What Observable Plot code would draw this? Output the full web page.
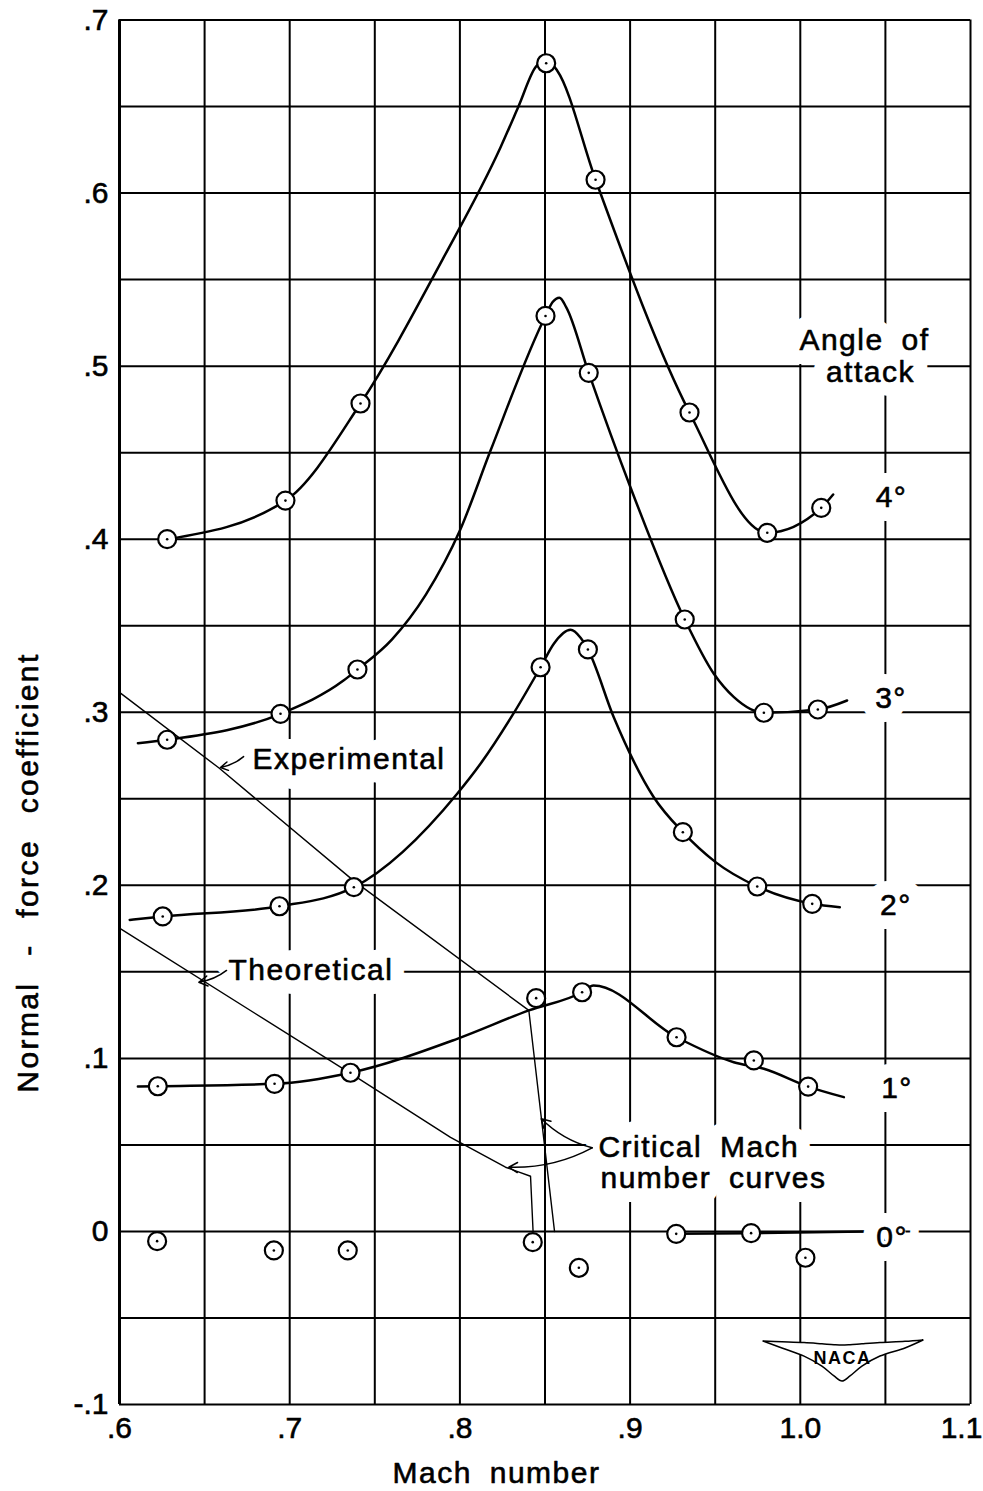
<!DOCTYPE html>
<html><head><meta charset="utf-8">
<script src="https://cdn.jsdelivr.net/npm/d3@7"></script>
<script src="https://cdn.jsdelivr.net/npm/@observablehq/plot@0.6"></script>
<style>
html,body{margin:0;padding:0;background:#fff;}
#chart svg{display:block;}
#chart g[aria-label="text"] text{letter-spacing:1.5px;word-spacing:8px;}
#chart g[aria-label="text"] text[transform*="rotate"]{letter-spacing:2.4px;word-spacing:15px;}
#chart g[aria-label="x-axis tick label"] text,
#chart g[aria-label="y-axis tick label"] text{stroke:black;stroke-width:0.6px;}
</style>
</head><body><div id="chart"></div>
<script>
// ---- axes ----
const xTicks = [0.6, 0.7, 0.8, 0.9, 1.0, 1.1];
const xTickLabels = [".6", ".7", ".8", ".9", "1.0", "1.1"];
const yTicks = [-0.1, 0, 0.1, 0.2, 0.3, 0.4, 0.5, 0.6, 0.7];
const yTickLabels = ["-.1", "0", ".1", ".2", ".3", ".4", ".5", ".6", ".7"];
const gridXs = [0.6, 0.65, 0.7, 0.75, 0.8, 0.85, 0.9, 0.95, 1.0, 1.05, 1.1];
const gridYs = [-0.1, -0.05, 0, 0.05, 0.1, 0.15, 0.2, 0.25, 0.3, 0.35, 0.4, 0.45, 0.5, 0.55, 0.6, 0.65, 0.7];
const xTitle = "Mach number";
const yTitle = "Normal - force coefficient";

// ---- measured points (Mach number, normal-force coefficient) ----
const mach4 = [0.628, 0.6975, 0.7416, 0.8507, 0.8797, 0.9349, 0.9806, 1.0123];
const cn4   = [0.400, 0.4223, 0.4784, 0.675, 0.6077, 0.4732, 0.4037, 0.4181];
const mach3 = [0.628, 0.6946, 0.7398, 0.8503, 0.8757, 0.9321, 0.9786, 1.0103];
const cn3   = [0.2841, 0.2991, 0.3247, 0.529, 0.4961, 0.3536, 0.2997, 0.3016];
const mach2 = [0.6254, 0.694, 0.7377, 0.8474, 0.8752, 0.931, 0.9747, 1.007];
const cn2   = [0.182, 0.1879, 0.1989, 0.326, 0.3363, 0.2307, 0.1993, 0.1893];
const mach1 = [0.6225, 0.6911, 0.7357, 0.8448, 0.8718, 0.9273, 0.9727, 1.0046];
const cn1   = [0.0839, 0.0853, 0.0917, 0.1348, 0.1382, 0.1122, 0.0988, 0.0837];
const mach0 = [0.6221, 0.6907, 0.7341, 0.8428, 0.8699, 0.9271, 0.9711, 1.003];
const cn0   = [-0.0056, -0.011, -0.011, -0.0062, -0.021, -0.0014, -0.001, -0.0152];

// ---- faired curves ----
const fair4M = [0.6282, 0.6975, 0.7416, 0.79, 0.8239, 0.8344, 0.8444, 0.8507, 0.8572, 0.8797, 0.9349, 0.9806, 1.0123, 1.0193];
const fair4C = [0.400, 0.4223, 0.4784, 0.562, 0.6265, 0.65, 0.6727, 0.677, 0.6707, 0.6077, 0.4732, 0.4037, 0.4181, 0.4258];
const fair3M = [0.6108, 0.628, 0.6946, 0.7316, 0.7398, 0.76, 0.78, 0.80, 0.818, 0.8503, 0.8545, 0.8585, 0.8625, 0.8757, 0.9002, 0.9321, 0.9492, 0.961, 0.9786, 1.0103, 1.0275];
const fair3C = [0.2821, 0.2841, 0.2991, 0.3183, 0.3247, 0.342, 0.368, 0.405, 0.4512, 0.529, 0.537, 0.5395, 0.534, 0.4961, 0.43, 0.3536, 0.3222, 0.3087, 0.2997, 0.3016, 0.3068];
const fair2M = [0.606, 0.6254, 0.694, 0.7377, 0.7984, 0.8121, 0.8307, 0.8474, 0.8552, 0.865, 0.8709, 0.8752, 0.8904, 0.9139, 0.931, 0.9502, 0.9747, 1.007, 1.0232];
const fair2C = [0.180, 0.182, 0.1879, 0.1989, 0.2529, 0.2702, 0.298, 0.326, 0.3396, 0.3476, 0.343, 0.3363, 0.2971, 0.2509, 0.2307, 0.2134, 0.1993, 0.1893, 0.1873];
const fair1M = [0.6108, 0.6225, 0.6911, 0.7357, 0.7984, 0.8405, 0.8718, 0.8785, 0.9273, 0.9609, 0.9786, 1.0046, 1.0256];
const fair1C = [0.0837, 0.0839, 0.0853, 0.0917, 0.1113, 0.1277, 0.1382, 0.1421, 0.1122, 0.0978, 0.094, 0.0837, 0.0776];
const fair0M = [0.9271, 0.9711, 1.038];
const fair0C = [-0.0014, -0.001, 0.0];

// ---- critical Mach number curves ----
const critExpM = [0.6, 0.6583, 0.7375, 0.8405, 0.8556];
const critExpC = [0.3115, 0.2679, 0.2027, 0.1277, 0.0];
const critTheoM = [0.6, 0.7357, 0.7945, 0.8268, 0.8415, 0.843];
const critTheoC = [0.1753, 0.0913, 0.0544, 0.0371, 0.0319, 0.0];

// ---- annotations ----
const angleLabels = ["4°", "3°", "2°", "1°", "0°"];
const angleLabelM = [1.0536, 1.0533, 1.0562, 1.0568, 1.0539];
const angleLabelC = [0.4241, 0.3078, 0.1883, 0.0826, -0.0035];
const legendTitle = ["Angle of", "attack"];
const legendTitleM = [1.0377, 1.0412];
const legendTitleC = [0.5148, 0.4963];
const notes = ["Experimental", "Theoretical", "Critical Mach", "number curves"];
const noteM = [0.6781, 0.664, 0.8814, 0.8826];
const noteC = [0.2727, 0.1508, 0.0487, 0.0304];
const leaderFromM = [0.6729, 0.6629, 0.8777, 0.8777];
const leaderFromC = [0.2744, 0.1508, 0.0483, 0.0483];
const leaderToM = [0.6593, 0.6466, 0.8478, 0.8287];
const leaderToC = [0.2681, 0.1440, 0.0651, 0.0371];
const xTitleM = 0.8215;
const yTitleC = 0.2074;

// ---- NACA wing logo ----
const logoM = [0.9784, 0.9895, 1.0025, 1.0130, 1.0201, 1.0248, 1.0295, 1.0365, 1.0471, 1.0618, 1.0724];
const logoTop = [-0.0636, -0.0640, -0.0645, -0.0652, -0.0657, -0.0659, -0.0657, -0.0652, -0.0645, -0.0638, -0.0630];
const logoBottom = [-0.0636, -0.0676, -0.0723, -0.0781, -0.0838, -0.0867, -0.0838, -0.0781, -0.0723, -0.0676, -0.0630];
const logoText = "NACA";
const logoTextM = 1.0248, logoTextC = -0.0734;

// ---- build rows ----
const rows = (ms, cs) => ms.map((m, i) => ({m, c: cs[i]}));
const points = [
  ...rows(mach4, cn4), ...rows(mach3, cn3), ...rows(mach2, cn2), ...rows(mach1, cn1), ...rows(mach0, cn0)
];
const faired = [rows(fair4M, fair4C), rows(fair3M, fair3C), rows(fair2M, fair2C), rows(fair1M, fair1C)];
const labelRows = angleLabels.map((t, i) => ({t, m: angleLabelM[i], c: angleLabelC[i]}));
const titleRows = legendTitle.map((t, i) => ({t, m: legendTitleM[i], c: legendTitleC[i]}));
const noteRows = notes.map((t, i) => ({t, m: noteM[i], c: noteC[i]}));
const leaders = leaderFromM.map((m, i) => ({m1: m, c1: leaderFromC[i], m2: leaderToM[i], c2: leaderToC[i]}));
const logoRows = logoM.map((m, i) => ({m, top: logoTop[i], bottom: logoBottom[i]}));

const fmt = (ticks, labels) => d => labels[ticks.findIndex(t => Math.abs(t - d) < 1e-9)];
const haloStyle = {stroke: "white", strokeWidth: 28, strokeLinejoin: "round", fill: "white"};
const inkStyle = {stroke: "black", strokeWidth: 0.6, fill: "black"};
const lastX = xTicks[xTicks.length - 1];

const labelMarks = (data, extra) => [
  Plot.text(data, {x: "m", y: "c", text: "t", ...extra, ...haloStyle}),
  Plot.text(data, {x: "m", y: "c", text: "t", ...extra, ...inkStyle})
];

const plot = Plot.plot({
  width: 983,
  height: 1491,
  marginLeft: 119,
  marginRight: 13,
  marginTop: 19.5,
  marginBottom: 87,
  style: {fontFamily: "'Liberation Sans', Arial, sans-serif", fontSize: "30px", background: "white", color: "black"},
  x: {domain: [0.6, 1.1]},
  y: {domain: [-0.1, 0.7]},
  marks: [
    Plot.gridX(gridXs, {stroke: "black", strokeOpacity: 1, strokeWidth: 2}),
    Plot.gridY(gridYs, {stroke: "black", strokeOpacity: 1, strokeWidth: 2}),
    Plot.ruleX([0.6], {stroke: "black", strokeWidth: 3}),
    Plot.axisX(xTicks.filter(t => t !== lastX), {tickFormat: fmt(xTicks, xTickLabels), tickSize: 0, tickPadding: 12, label: null, fontSize: 30}),
    Plot.axisX([lastX], {tickFormat: fmt(xTicks, xTickLabels), tickSize: 0, tickPadding: 12, label: null, fontSize: 30, dx: -9}),
    Plot.axisY(yTicks, {tickFormat: fmt(yTicks, yTickLabels), tickSize: 0, tickPadding: 11, label: null, fontSize: 30}),
    // critical Mach number curves
    Plot.line(rows(critExpM, critExpC), {x: "m", y: "c", stroke: "black", strokeWidth: 1.4}),
    Plot.line(rows(critTheoM, critTheoC), {x: "m", y: "c", stroke: "black", strokeWidth: 1.4}),
    // faired curves
    ...faired.map(d => Plot.line(d, {x: "m", y: "c", stroke: "black", strokeWidth: 2.5, curve: "monotone-x"})),
    Plot.line(rows(fair0M, fair0C), {x: "m", y: "c", stroke: "black", strokeWidth: 2.5}),
    // data points
    Plot.dot(points, {x: "m", y: "c", r: 9, stroke: "black", strokeWidth: 2.2, fill: "white"}),
    Plot.dot(points, {x: "m", y: "c", r: 1.3, fill: "black", stroke: null}),
    // logo
    Plot.areaY(logoRows, {x: "m", y1: "top", y2: "bottom", fill: "white", stroke: "black", strokeWidth: 1.5, curve: "catmull-rom"}),
    Plot.text([logoText], {x: () => logoTextM, y: () => logoTextC, text: d => d, fontSize: 18, fontWeight: "bold", fill: "black"}),
    // annotations
    ...labelMarks(titleRows, {}),
    ...labelMarks(labelRows, {}),
    ...labelMarks(noteRows, {textAnchor: "start"}),
    Plot.arrow(leaders, {x1: "m1", y1: "c1", x2: "m2", y2: "c2", stroke: "black", strokeWidth: 1.5, headLength: 10, bend: 15}),
    // axis titles
    Plot.text([xTitle], {x: () => xTitleM, frameAnchor: "bottom", lineAnchor: "middle", textAnchor: "middle", dy: 69, text: d => d, fontSize: 30, ...inkStyle}),
    Plot.text([yTitle], {y: () => yTitleC, frameAnchor: "left", textAnchor: "middle", lineAnchor: "middle", dx: -91, rotate: -90, text: d => d, fontSize: 30, ...inkStyle})
  ]
});
document.getElementById("chart").append(plot);
</script></body></html>
